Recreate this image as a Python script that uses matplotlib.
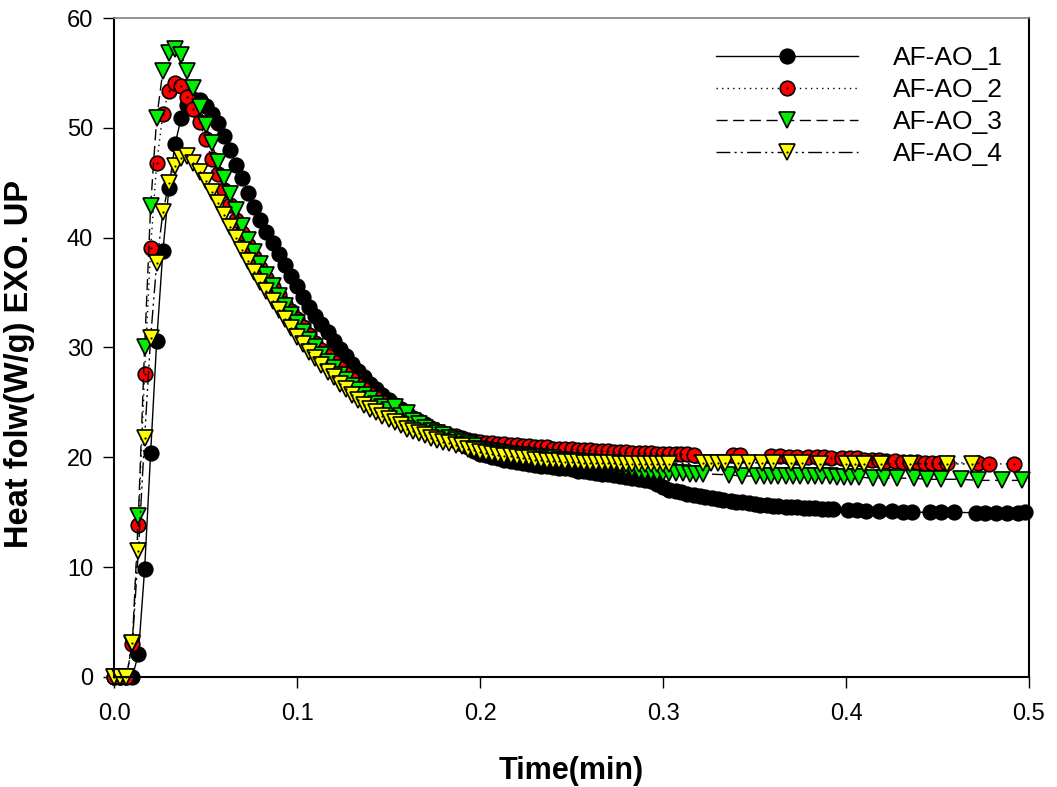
import matplotlib
matplotlib.use('Agg')
import matplotlib.pyplot as plt
from matplotlib.ticker import FormatStrFormatter

plt.rcParams['font.family'] = ['Liberation Sans', 'DejaVu Sans']

# common sampling times (min) of the dense part
t_main = [
    0.0, 0.0033, 0.0067, 0.01, 0.0133, 0.0167, 0.02, 0.0233, 0.0267, 0.03,
    0.0333, 0.0367, 0.04, 0.0433, 0.0467, 0.05, 0.0533, 0.0567, 0.06, 0.0633,
    0.0667, 0.07, 0.0733, 0.0767, 0.08, 0.0833, 0.0867, 0.09, 0.0933, 0.0967,
    0.1, 0.1033, 0.1067, 0.11, 0.1133, 0.1167, 0.12, 0.1233, 0.1267, 0.13,
    0.1333, 0.1367, 0.14, 0.1433, 0.1467, 0.15, 0.1533, 0.1567, 0.16, 0.1633,
    0.1667, 0.17, 0.1733, 0.1767, 0.18, 0.1833, 0.1867, 0.19, 0.1933, 0.1967,
    0.2, 0.2033, 0.2067, 0.21, 0.2133, 0.2167, 0.22, 0.2233, 0.2267, 0.23,
    0.2333, 0.2367, 0.24, 0.2433, 0.2467, 0.25, 0.2533, 0.2567, 0.26, 0.2633,
    0.2667, 0.27, 0.2733, 0.2767, 0.28, 0.2833, 0.2867, 0.29, 0.2933, 0.2967,
    0.3,
]

# AF-AO_1
y1_main = [
    0, 0, 0, 0, 2.1, 9.8, 20.4, 30.6, 38.8, 44.5,
    48.5, 50.9, 52.1, 52.6, 52.5, 52.0, 51.3, 50.4, 49.3, 48.0,
    46.6, 45.4, 44.1, 42.8, 41.6, 40.5, 39.5, 38.5, 37.5, 36.5,
    35.6, 34.6, 33.7, 32.9, 32.1, 31.4, 30.6, 29.9, 29.2, 28.5,
    27.9, 27.3, 26.7, 26.2, 25.7, 25.2, 24.8, 24.4, 24.0, 23.6,
    23.3, 23.0, 22.7, 22.4, 22.1, 21.8, 21.5, 21.2, 20.9, 20.6,
    20.3, 20.2, 20.0, 19.9, 19.8, 19.7, 19.6, 19.5, 19.4, 19.3,
    19.2, 19.2, 19.1, 19.0, 19.0, 18.9, 18.8, 18.8, 18.7, 18.6,
    18.5, 18.5, 18.4, 18.3, 18.2, 18.1, 18.0, 17.9, 17.8, 17.6, 17.3,
]
t1_tail = [0.303, 0.307, 0.310, 0.313, 0.317, 0.320, 0.323, 0.327, 0.330, 0.333,
           0.337, 0.340, 0.343, 0.347, 0.350, 0.353, 0.357, 0.360, 0.363, 0.367,
           0.370, 0.373, 0.377, 0.380, 0.383, 0.387, 0.390, 0.393,
           0.401, 0.406, 0.411, 0.418, 0.425, 0.431, 0.436,
           0.446, 0.452, 0.459,
           0.471, 0.476, 0.482, 0.488, 0.494, 0.498]
y1_tail = [17.0, 16.9, 16.8, 16.7, 16.6, 16.5, 16.4, 16.3, 16.2, 16.1,
           16.0, 15.95, 15.9, 15.8, 15.75, 15.7, 15.65, 15.6, 15.55, 15.5,
           15.5, 15.45, 15.4, 15.4, 15.35, 15.3, 15.3, 15.3,
           15.2, 15.2, 15.15, 15.1, 15.1, 15.05, 15.0,
           15.0, 15.0, 15.0,
           14.95, 14.95, 14.95, 14.95, 14.95, 15.0]

# AF-AO_2
y2_main = [
    0, 0, 0, 3.0, 13.8, 27.6, 39.1, 46.8, 51.3, 53.4,
    54.1, 53.8, 52.8, 51.7, 50.5, 49.0, 47.2, 45.8, 44.3, 43.0,
    41.6, 40.4, 39.3, 38.2, 37.2, 36.3, 35.5, 34.8, 34.0, 33.3,
    32.6, 31.9, 31.1, 30.4, 29.8, 29.2, 28.7, 28.1, 27.6, 27.1,
    26.6, 26.2, 25.8, 25.4, 25.0, 24.6, 24.3, 24.0, 23.7, 23.4,
    23.1, 22.8, 22.6, 22.4, 22.2, 22.0, 21.9, 21.8, 21.6, 21.5,
    21.4, 21.3, 21.3, 21.2, 21.2, 21.1, 21.1, 21.0, 21.0, 20.9,
    20.9, 20.9, 20.8, 20.8, 20.8, 20.8, 20.7, 20.7, 20.7, 20.6,
    20.6, 20.6, 20.5, 20.5, 20.5, 20.4, 20.4, 20.4, 20.4, 20.3, 20.3,
]
t2_tail = [0.303, 0.307, 0.310, 0.313, 0.317,
           0.338, 0.342,
           0.359, 0.364, 0.369, 0.373, 0.379, 0.384, 0.388, 0.392,
           0.398, 0.402, 0.406, 0.410, 0.414, 0.418, 0.422,
           0.427, 0.431, 0.435, 0.439, 0.443, 0.447, 0.451, 0.455,
           0.472, 0.478, 0.492]
y2_tail = [20.3, 20.3, 20.3, 20.3, 20.2,
           20.2, 20.2,
           20.1, 20.1, 20.0, 20.0, 20.0, 20.0, 20.0, 19.9,
           19.9, 19.9, 19.9, 19.8, 19.8, 19.8, 19.7,
           19.7, 19.6, 19.6, 19.6, 19.5, 19.5, 19.5, 19.5,
           19.5, 19.4, 19.4]

# AF-AO_3
y3_main = [
    0, 0, 0, 3.0, 14.7, 30.0, 42.9, 50.9, 55.2, 56.8,
    57.2, 56.6, 55.2, 53.6, 51.9, 50.3, 48.6, 46.9, 45.4, 44.0,
    42.5, 41.1, 39.8, 38.7, 37.6, 36.6, 35.6, 34.7, 33.8, 33.0,
    32.2, 31.4, 30.7, 30.0, 29.3, 28.7, 28.1, 27.5, 27.0, 26.5,
    26.1, 25.7, 25.3, 24.9, 24.6, 24.3, 24.6, 23.8, 24.0, 23.3,
    23.0, 22.7, 22.4, 22.2, 22.0, 21.8, 21.6, 21.4, 21.2, 21.0,
    20.8, 20.7, 20.6, 20.5, 20.4, 20.3, 20.2, 20.2, 20.1, 20.0,
    20.0, 19.9, 19.9, 19.8, 19.8, 19.7, 19.7, 19.6, 19.6, 19.5,
    19.4, 19.3, 19.2, 19.1, 19.0, 18.9, 18.8, 18.7, 18.7, 18.6, 18.6,
]
t3_tail = [0.303, 0.307, 0.311, 0.315, 0.318, 0.322,
           0.336, 0.343,
           0.351, 0.355, 0.359, 0.363, 0.367, 0.371, 0.375, 0.379, 0.383,
           0.387, 0.391, 0.395, 0.399, 0.403, 0.407,
           0.415, 0.421, 0.428, 0.437, 0.444, 0.452,
           0.463, 0.472, 0.485, 0.496]
y3_tail = [18.6, 18.6, 18.6, 18.5, 18.5, 18.5,
           18.4, 18.3,
           18.3, 18.3, 18.3, 18.3, 18.3, 18.3, 18.3, 18.3, 18.3,
           18.3, 18.3, 18.2, 18.2, 18.2, 18.2,
           18.1, 18.1, 18.1, 18.1, 18.0, 18.0,
           18.0, 17.9, 17.9, 17.9]

# AF-AO_4
y4_main = [
    0, 0, 0, 3.1, 11.5, 21.8, 30.9, 37.7, 42.3, 45.0,
    46.5, 47.3, 47.4, 46.8, 46.0, 45.2, 44.2, 43.2, 42.1, 41.0,
    40.0, 38.9, 37.9, 36.9, 36.0, 35.1, 34.2, 33.4, 32.6, 31.8,
    31.0, 30.3, 29.6, 29.0, 28.4, 27.8, 27.3, 26.7, 26.2, 25.7,
    25.2, 24.8, 24.4, 24.1, 23.8, 23.5, 23.2, 22.9, 22.6, 22.4,
    22.2, 22.0, 21.8, 21.6, 21.4, 21.3, 21.1, 21.0, 20.8, 20.7,
    20.5, 20.4, 20.3, 20.2, 20.1, 20.1, 20.0, 19.9, 19.9, 19.8,
    19.8, 19.7, 19.7, 19.7, 19.6, 19.6, 19.6, 19.5, 19.5, 19.5,
    19.5, 19.5, 19.5, 19.4, 19.4, 19.4, 19.4, 19.4, 19.4, 19.4, 19.4,
]
t4_tail = [0.303, 0.322, 0.326, 0.330, 0.334, 0.341, 0.347, 0.354, 0.360,
           0.370, 0.376, 0.386, 0.400, 0.405, 0.410, 0.419, 0.435, 0.455, 0.469]
y4_tail = [19.4, 19.5, 19.5, 19.5, 19.5, 19.5, 19.5, 19.5, 19.5,
           19.5, 19.5, 19.4, 19.4, 19.4, 19.4, 19.4, 19.4, 19.4, 19.4]

labels = ['AF-AO_1', 'AF-AO_2', 'AF-AO_3', 'AF-AO_4']

series = [
    (t_main + t1_tail, y1_main + y1_tail),
    (t_main + t2_tail, y2_main + y2_tail),
    (t_main + t3_tail, y3_main + y3_tail),
    (t_main + t4_tail, y4_main + y4_tail),
]
styles = [
    dict(ls='-', marker='o', mfc='black', ms=10.5, dot=False),
    dict(ls=(0, (1, 3)), marker='o', mfc='#ff0000', ms=10.5, dot=True),
    dict(ls=(0, (8, 4)), marker='v', mfc='#00ee00', ms=11.5, dot=False),
    dict(ls=(0, (10, 3, 1.5, 3, 1.5, 3)), marker='v', mfc='#ffff00', ms=11.5, dot=True),
]

fig = plt.figure(figsize=(10.57, 7.87), dpi=100)
ax = fig.add_axes([0.1079, 0.1398, 0.8656, 0.8373])

handles = []
for (t, y), st, lab in zip(series, styles, labels):
    line, = ax.plot(t, y, linestyle=st['ls'], color='black', lw=1.0,
                    marker=st['marker'], mfc=st['mfc'], mec='black',
                    ms=st['ms'], mew=1.2, clip_on=False)
    if st['dot']:
        dot, = ax.plot(t, y, linestyle='none', marker='o', ms=1.6,
                       mfc='black', mec='black', mew=0, clip_on=False)
        handles.append((line, dot))
    else:
        handles.append(line)

ax.set_xlim(0, 0.5)
ax.set_ylim(0, 60)
ax.set_xticks([0.0, 0.1, 0.2, 0.3, 0.4, 0.5])
ax.set_yticks([0, 10, 20, 30, 40, 50, 60])
ax.xaxis.set_major_formatter(FormatStrFormatter('%.1f'))
ax.tick_params(direction='out', length=8, width=1, labelsize=17, top=False, right=False)
ax.tick_params(axis='x', pad=11)
ax.tick_params(axis='y', pad=7)

for side in ['left', 'bottom', 'right']:
    ax.spines[side].set_linewidth(1.5)
    ax.spines[side].set_color('black')
ax.spines['top'].set_linewidth(1.2)
ax.spines['top'].set_color('#808080')

ax.set_xlabel('Time(min)', fontsize=22, fontweight='bold', labelpad=22)
ax.set_ylabel('Heat folw(W/g) EXO. UP', fontsize=23.5, fontweight='bold')
ax.yaxis.set_label_coords(-0.086, 0.475)

ax.legend(handles, labels, loc='upper right', frameon=False, fontsize=19,
          numpoints=1, handlelength=5.4, handletextpad=1.3, labelspacing=0.3,
          borderaxespad=0.5, bbox_to_anchor=(0.997, 0.993))

fig.savefig('out.png', dpi=100)
